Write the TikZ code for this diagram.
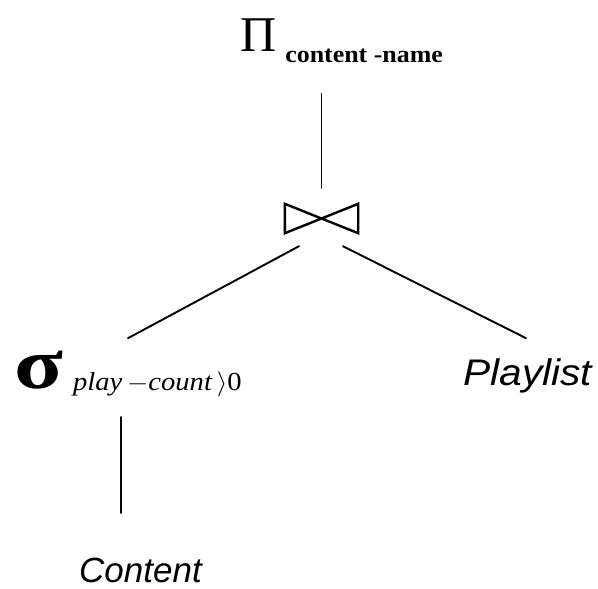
\documentclass[tikz,border=0pt]{standalone}
\usepackage{fontspec}
\usepackage{graphicx}
\setmainfont{Liberation Serif}
\newfontfamily\relfont{Liberation Sans}
\begin{document}
\begin{tikzpicture}[x=1pt,y=-1pt,
  edge/.style={line width=1.9pt, line cap=round},
  relname/.style={inner sep=0pt, anchor=base west,
    font=\fontsize{37}{40}\relfont\itshape},
  opname/.style={inner sep=0pt, anchor=base west},
  joinbox/.style={inner sep=0pt, minimum width=73pt, minimum height=29pt}]
\useasboundingbox (0,0) rectangle (598,589);

% projection operator
\node[opname] (proj) at (240,52)
  {\fontsize{50}{52}\selectfont Π\hspace{9pt}%
   \raisebox{-11pt}{\scalebox{1.08}[1]{\fontsize{24}{26}\selectfont\bfseries content -name}}};

% natural join (bow tie)
\node[joinbox] (join) at (321.5,218.5) {};
\draw[line width=2.4pt, line join=miter]
  (join.north west) -- (join.center) -- (join.north east)
  -- (join.south east) -- (join.center) -- (join.south west) -- cycle;

% selection operator
\node[opname] (sel) at (14,388)
  {\scalebox{1.25}[1]{\fontsize{72}{74}\selectfont\bfseries σ}\hspace{10pt}%
   \raisebox{-2pt}{\scalebox{1.1}[1]{\fontsize{26}{28}\selectfont\itshape play\,$-$count\,$\rangle$\upshape 0}}};

% base relations
\node[relname] (playlist) at (463,385) {\scalebox{1.1}[1]{Playlist}};
\node[relname, font=\fontsize{35}{38}\relfont\itshape] (content) at (79,582) {Content};

% tree edges
\draw[edge] (join.north) ++(0,-16) -- ++(0,-94);
\draw[edge] (join.south) ++(-22.5,13) -- ++(-171,92);
\draw[edge] (join.south) ++(21.5,13) -- ++(183,92);
\coordinate (content-top) at (121,513);
\draw[edge] (content-top) -- ++(0,-96);
\end{tikzpicture}
\end{document}
